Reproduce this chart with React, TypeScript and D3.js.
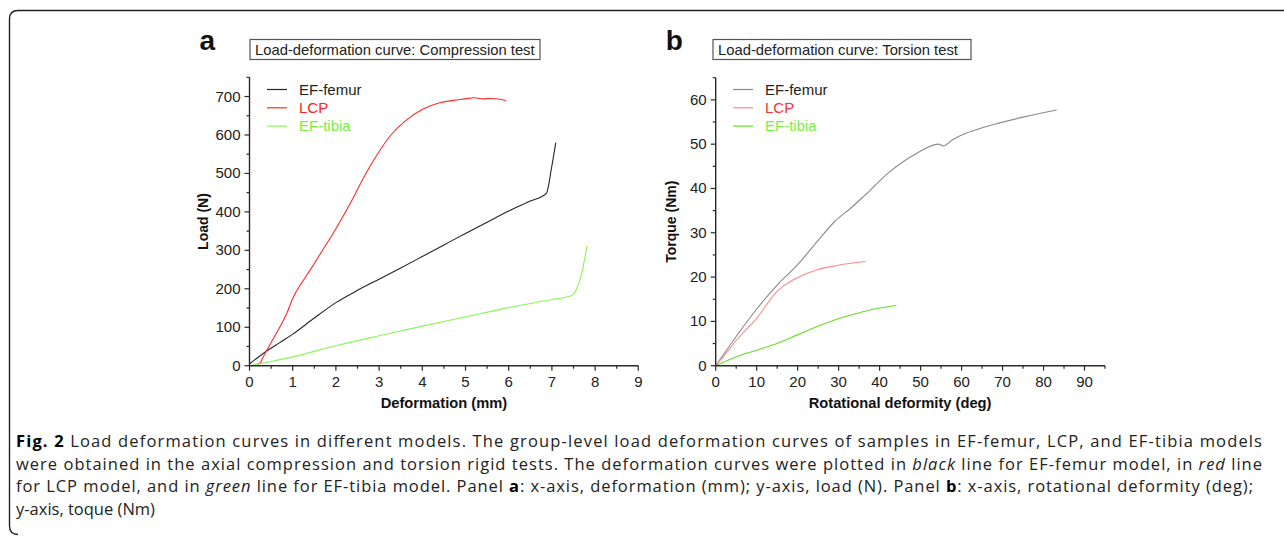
import React from 'react';
import * as d3 from 'd3';

// panel a: compression test, deformation (mm) vs load (N)
const compFemur: [number, number][] = [
  [0, 5], [0.2, 22], [0.45, 42], [0.7, 60], [1, 82], [1.5, 124], [2, 164], [2.5, 196],
  [3, 225], [3.5, 254], [4, 284], [4.5, 314], [5, 344], [5.5, 373], [6, 402],
  [6.5, 428], [6.87, 448], [7.0, 520], [7.09, 580],
];
const compLcp: [number, number][] = [
  [0, 0], [0.15, 2], [0.25, 8], [0.32, 23], [0.45, 50], [0.55, 70], [0.7, 100],
  [0.86, 135], [1.0, 175], [1.2, 214], [1.4, 248], [1.7, 302], [2.0, 356], [2.37, 430],
  [2.64, 489], [2.95, 548], [3.26, 598], [3.6, 636], [4.03, 668], [4.4, 684],
  [4.72, 690], [5.0, 694], [5.19, 697], [5.4, 694], [5.6, 695], [5.8, 693], [5.94, 689],
];
const compTibia: [number, number][] = [
  [0, 0], [0.5, 11], [1, 23], [2, 52], [3, 78], [4, 103], [5, 127], [6, 151],
  [7, 172], [7.45, 182], [7.56, 197], [7.68, 235], [7.81, 311],
];

// panel b: torsion test, rotational deformity (deg) vs torque (Nm)
const torFemur: [number, number][] = [
  [0, 0], [5, 6.6], [10, 12.8], [15, 18.2], [20.1, 22.9], [25, 28.3], [29.1, 32.6],
  [33, 35.6], [36, 38.1], [42.5, 43.8], [49, 47.9], [54.3, 50.0], [55.5, 49.6],
  [58, 51.1], [61.2, 52.5], [65, 53.7], [69.3, 54.8], [75, 56.1], [83.2, 57.7],
];
const torLcp: [number, number][] = [
  [0, 0], [2, 2.2], [5.1, 5.8], [10, 10.7], [14.9, 16.7], [17, 18.3], [19.8, 19.8],
  [24.6, 21.6], [29.5, 22.6], [36.6, 23.5],
];
const torTibia: [number, number][] = [
  [0, 0], [5.1, 2.0], [10, 3.5], [14.9, 5.0], [19.8, 6.9], [24.6, 8.8], [29.5, 10.5],
  [34.4, 11.8], [39.3, 12.9], [44.1, 13.6],
];

const legendNames = ['EF-femur', 'LCP', 'EF-tibia'];

const captionLines = [
  [
    { t: 'Fig. 2', w: 'bold' },
    { t: ' Load deformation curves in different models. The group-level load deformation curves of samples in EF-femur, LCP, and EF-tibia models' },
  ],
  [
    { t: 'were obtained in the axial compression and torsion rigid tests. The deformation curves were plotted in ' },
    { t: 'black', s: 'italic' },
    { t: ' line for EF-femur model, in ' },
    { t: 'red', s: 'italic' },
    { t: ' line' },
  ],
  [
    { t: 'for LCP model, and in ' },
    { t: 'green', s: 'italic' },
    { t: ' line for EF-tibia model. Panel ' },
    { t: 'a', w: 'bold' },
    { t: ': x-axis, deformation (mm); y-axis, load (N). Panel ' },
    { t: 'b', w: 'bold' },
    { t: ': x-axis, rotational deformity (deg);' },
  ],
  [{ t: 'y-axis, toque (Nm)' }],
];
const captionWidths = [1246, 1246, 1237, 0];

const AX = '#2a2a2a';
const FONT = "'Liberation Sans', Arial, sans-serif";

type PanelProps = {
  letter: string;
  title: string;
  titleBox: [number, number];
  x: d3.ScaleLinear<number, number>;
  y: d3.ScaleLinear<number, number>;
  xMajor: number[];
  xMinor: number[];
  yMajor: number[];
  yMinor: number[];
  xLabel: string;
  yLabel: string;
  yLabelX: number;
  series: { data: [number, number][]; color: string }[];
  legendColors: string[];
  legendX: number;
};

const Panel = (p: PanelProps) => {
  const line = d3.line<[number, number]>()
    .x(d => p.x(d[0])).y(d => p.y(d[1]))
    .curve(d3.curveMonotoneX);
  const [x0, x1] = p.x.range();
  const [y0, y1] = p.y.range();
  return (
    <g fontFamily={FONT}>
      <text x={x0 - 50} y={50} fontSize={28} fontWeight="bold" fill="#111">{p.letter}</text>
      <rect x={p.titleBox[0]} y={39.5} width={p.titleBox[1] - p.titleBox[0]} height={20}
        fill="none" stroke="#555" strokeWidth={1.2} />
      <text x={p.titleBox[0] + 5} y={54.8} fontSize={14.8} fill="#222">{p.title}</text>

      {p.series.map((s, i) => (
        <path key={i} d={line(s.data) || ''} fill="none" stroke={s.color} strokeWidth={1.1} />
      ))}

      {/* axes */}
      <line x1={x0} x2={x1} y1={y0} y2={y0} stroke={AX} strokeWidth={1.4} />
      <line x1={x0} x2={x0} y1={y0} y2={y1} stroke={AX} strokeWidth={1.4} />
      {p.xMinor.map(v => (
        <line key={'xm' + v} x1={p.x(v)} x2={p.x(v)} y1={y0} y2={y0 + 3} stroke={AX} strokeWidth={1.2} />
      ))}
      {p.xMajor.map(v => (
        <g key={'xM' + v}>
          <line x1={p.x(v)} x2={p.x(v)} y1={y0} y2={y0 + 5} stroke={AX} strokeWidth={1.2} />
          <text x={p.x(v)} y={387} fontSize={15} textAnchor="middle" fill="#222">{v}</text>
        </g>
      ))}
      {p.yMinor.map(v => (
        <line key={'ym' + v} x1={x0} x2={x0 - 3} y1={p.y(v)} y2={p.y(v)} stroke={AX} strokeWidth={1.2} />
      ))}
      {p.yMajor.map(v => (
        <g key={'yM' + v}>
          <line x1={x0} x2={x0 - 5} y1={p.y(v)} y2={p.y(v)} stroke={AX} strokeWidth={1.2} />
          <text x={x0 - 9} y={p.y(v) + 5} fontSize={15} textAnchor="end" fill="#222">{v}</text>
        </g>
      ))}
      <text x={(x0 + p.x(p.xMajor[p.xMajor.length - 1])) / 2} y={408} fontSize={14.7} fontWeight="bold"
        textAnchor="middle" fill="#111">{p.xLabel}</text>
      <text transform={`translate(${p.yLabelX},${(y0 + y1) / 2}) rotate(-90)`} fontSize={14}
        fontWeight="bold" textAnchor="middle" fill="#111">{p.yLabel}</text>

      {/* legend */}
      {legendNames.map((n, i) => (
        <g key={n}>
          <line x1={p.legendX} x2={p.legendX + 20} y1={89.5 + i * 18.3} y2={89.5 + i * 18.3}
            stroke={p.series[i].color} strokeWidth={1.2} />
          <text x={p.legendX + 32} y={94.8 + i * 18.3} fontSize={15} fill={p.legendColors[i]}>{n}</text>
        </g>
      ))}
    </g>
  );
};

const App = () => {
  const xa = d3.scaleLinear().domain([0, 9]).range([249.5, 638.3]);
  const ya = d3.scaleLinear().domain([0, 750]).range([365.7, 77.3]);
  const xb = d3.scaleLinear().domain([0, 95]).range([715.7, 1105]);
  const yb = d3.scaleLinear().domain([0, 65]).range([365.7, 77.7]);

  return (
    <svg width={1284} height={536} style={{ position: 'absolute', left: 0, top: 0 }}>
      <rect width={1284} height={536} fill="#fff" />
      <path d="M1284,10.5 L18,10.5 Q9.5,10.5 9.5,19 L9.5,526 Q9.5,534.5 18,534.5" fill="none"
        stroke="#222" strokeWidth={1.4} />

      <Panel letter="a" title="Load-deformation curve: Compression test" titleBox={[250, 540]}
        x={xa} y={ya} xMajor={d3.range(0, 10)} xMinor={d3.range(0.5, 9, 1)}
        yMajor={d3.range(0, 701, 100)} yMinor={d3.range(50, 751, 100)}
        xLabel="Deformation (mm)" yLabel="Load (N)" yLabelX={208}
        series={[
          { data: compFemur, color: '#262626' },
          { data: compLcp, color: '#ff2a2a' },
          { data: compTibia, color: '#8cf55a' },
        ]}
        legendColors={['#222', '#ff2020', '#77ee44']} legendX={267} />

      <Panel letter="b" title="Load-deformation curve: Torsion test" titleBox={[713, 971]}
        x={xb} y={yb} xMajor={d3.range(0, 91, 10)} xMinor={d3.range(5, 96, 10)}
        yMajor={d3.range(0, 61, 10)} yMinor={d3.range(5, 66, 10)}
        xLabel="Rotational deformity (deg)" yLabel="Torque (Nm)" yLabelX={676}
        series={[
          { data: torFemur, color: '#8a8a8a' },
          { data: torLcp, color: '#ff8a8a' },
          { data: torTibia, color: '#66dd2a' },
        ]}
        legendColors={['#222', '#ff3030', '#77ee44']} legendX={733} />

      <g fontFamily="'Open Sans', sans-serif" fontSize={16.5} fill="#222">
        {captionLines.map((ln, i) => (
          <text key={i} x={16} y={447 + i * 22.5}
            {...(captionWidths[i] ? { textLength: captionWidths[i], lengthAdjust: 'spacing' } : {})}>
            {ln.map((s: any, j) => (
              <tspan key={j} fontWeight={s.w || 'normal'} fontStyle={s.s || 'normal'} fill={s.w ? '#000' : '#222'}>{s.t}</tspan>
            ))}
          </text>
        ))}
      </g>
    </svg>
  );
};

export default App;
